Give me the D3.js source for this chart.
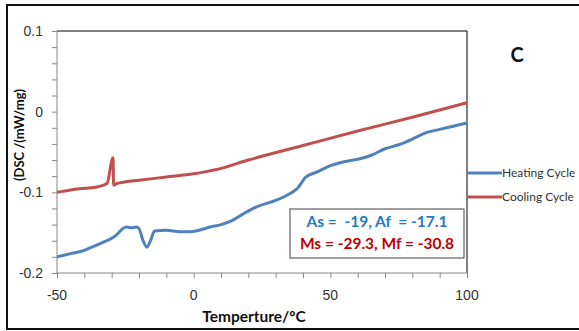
<!DOCTYPE html>
<html>
<head>
<meta charset="utf-8">
<script src="https://cdn.jsdelivr.net/npm/d3@7"></script>
<style>
  html, body { margin: 0; padding: 0; background: #fff; }
  svg { display: block; font-family: Lato, 'Open Sans', sans-serif; }
</style>
</head>
<body>
<svg id="chart" width="579" height="331"></svg>
<script>
// ── 데이터 ─────────────────────────────────────────────
const heatT = [-50, -45, -40, -37.9, -33.2, -30, -28, -26, -24.5, -22.5, -21, -20, -18.5, -17.1, -15.8, -14.3, -10, -5, -2, 2, 6, 10, 14, 18, 23, 30, 35, 38, 41, 45, 50, 55, 60, 65, 70, 75, 80, 85, 90, 95, 100];
const heatV = [-0.180, -0.176, -0.172, -0.169, -0.162, -0.157, -0.152, -0.145, -0.143, -0.144, -0.143, -0.145, -0.160, -0.168, -0.160, -0.148, -0.147, -0.149, -0.149, -0.147, -0.143, -0.140, -0.135, -0.127, -0.118, -0.110, -0.102, -0.095, -0.081, -0.075, -0.067, -0.062, -0.059, -0.054, -0.046, -0.041, -0.034, -0.026, -0.022, -0.018, -0.014];

const coolT = [-50, -45, -40, -35, -31.7, -29.5, -29.3, -28, -25, -20, -10, 0, 5, 8, 20, 40, 60, 80, 100];
const coolV = [-0.100, -0.097, -0.095, -0.093, -0.089, -0.057, -0.091, -0.089, -0.087, -0.085, -0.081, -0.077, -0.074, -0.072, -0.060, -0.042, -0.024, -0.007, 0.011];

const xTicks = [-50, 0, 50, 100];
const yTicks = [0.1, 0, -0.1, -0.2];
const seriesNames = ['Heating Cycle', 'Cooling Cycle'];
const seriesColors = ['#4f81bd', '#c0504d'];
const noteLines = ['As =  -19, Af  = -17.1', 'Ms = -29.3, Mf = -30.8'];
const noteColors = ['#1f7bc4', '#c00000'];

// ── 레이아웃 ───────────────────────────────────────────
const svg = d3.select('#chart');
const plot = { l: 57, t: 31, r: 467, b: 273 };

const x = d3.scaleLinear().domain([-50, 100]).range([plot.l, plot.r]);
const y = d3.scaleLinear().domain([-0.2, 0.1]).range([plot.b, plot.t]);

// 바깥 프레임
svg.append('rect')
  .attr('x', 7).attr('y', 5).attr('width', 590).attr('height', 324)
  .attr('fill', '#fff').attr('stroke', '#111').attr('stroke-width', 2);

// 플롯 영역 테두리 (위/오른쪽)
svg.append('path')
  .attr('d', `M${plot.l},${plot.t}H${plot.r}V${plot.b}`)
  .attr('fill', 'none').attr('stroke', '#000').attr('stroke-width', 1);

// ── 축 ─────────────────────────────────────────────────
const axisColor = '#868686';
const labelColor = '#333';

const gx = svg.append('g').attr('transform', `translate(0,${plot.b})`);
gx.call(d3.axisBottom(x).tickValues(d3.range(-50, 101, 10)).tickSize(5).tickFormat(''));
gx.call(g => g.select('.domain').attr('stroke', axisColor).attr('d', `M${plot.l},0H${plot.r}`));
gx.selectAll('.tick line').attr('stroke', axisColor);
gx.selectAll('.xl').data(xTicks).join('text')
  .attr('x', d => x(d)).attr('y', 27)
  .attr('text-anchor', 'middle').attr('font-size', 14).attr('fill', labelColor)
  .text(d => d);

const gy = svg.append('g').attr('transform', `translate(${plot.l},0)`);
gy.call(d3.axisLeft(y).tickValues(d3.range(-0.2, 0.1001, 0.02)).tickSize(5).tickFormat(''));
gy.call(g => g.select('.domain').attr('stroke', axisColor).attr('d', `M0,${plot.t}V${plot.b}`));
gy.selectAll('.tick line').attr('stroke', axisColor);
gy.selectAll('.yl').data(yTicks).join('text')
  .attr('x', -14).attr('y', d => y(d)).attr('dy', '0.35em')
  .attr('text-anchor', 'end').attr('font-size', 14).attr('fill', labelColor)
  .text(d => d);

// 축 제목
svg.append('text')
  .attr('x', 254).attr('y', 322).attr('text-anchor', 'middle')
  .attr('font-size', 15.5).attr('font-weight', 'bold').attr('fill', '#111')
  .text('Temperture/ºC');
svg.append('text')
  .attr('transform', 'translate(24,135) rotate(-90)').attr('text-anchor', 'middle')
  .attr('font-size', 13).attr('font-weight', 'bold').attr('fill', '#111')
  .text('(DSC /(mW/mg)');

// ── 선 ─────────────────────────────────────────────────
const line = d3.line().x(d => x(d[0])).y(d => y(d[1])).curve(d3.curveMonotoneX);
const series = [d3.zip(heatT, heatV), d3.zip(coolT, coolV)];
svg.selectAll('.series').data(series).join('path')
  .attr('d', line)
  .attr('fill', 'none')
  .attr('stroke', (d, i) => seriesColors[i])
  .attr('stroke-width', 3)
  .attr('stroke-linejoin', 'round');

// ── 주석 박스 ───────────────────────────────────────────
svg.append('rect')
  .attr('x', 290).attr('y', 209).attr('width', 174).attr('height', 49)
  .attr('fill', '#fff').attr('stroke', '#404040').attr('stroke-width', 1);
svg.selectAll('.note').data(noteLines).join('text')
  .attr('x', 377).attr('y', (d, i) => 227 + i * 22)
  .attr('text-anchor', 'middle').attr('font-size', 15.5).attr('font-weight', 'bold')
  .attr('fill', (d, i) => noteColors[i])
  .attr('xml:space', 'preserve')
  .style('white-space', 'pre')
  .text(d => d);

// 패널 라벨
svg.append('text')
  .attr('x', 517).attr('y', 62).attr('text-anchor', 'middle')
  .attr('font-size', 20).attr('font-weight', 'bold').attr('fill', '#111')
  .text('C');

// ── 범례 ───────────────────────────────────────────────
const legend = svg.selectAll('.legend').data(seriesNames).join('g')
  .attr('transform', (d, i) => `translate(468,${173 + i * 24})`);
legend.append('line')
  .attr('x1', 0).attr('x2', 34).attr('y1', 0).attr('y2', 0)
  .attr('stroke', (d, i) => seriesColors[i]).attr('stroke-width', 3);
legend.append('text')
  .attr('x', 34).attr('dy', '0.35em').attr('font-size', 12).attr('fill', labelColor)
  .text(d => d);
</script>
</body>
</html>
